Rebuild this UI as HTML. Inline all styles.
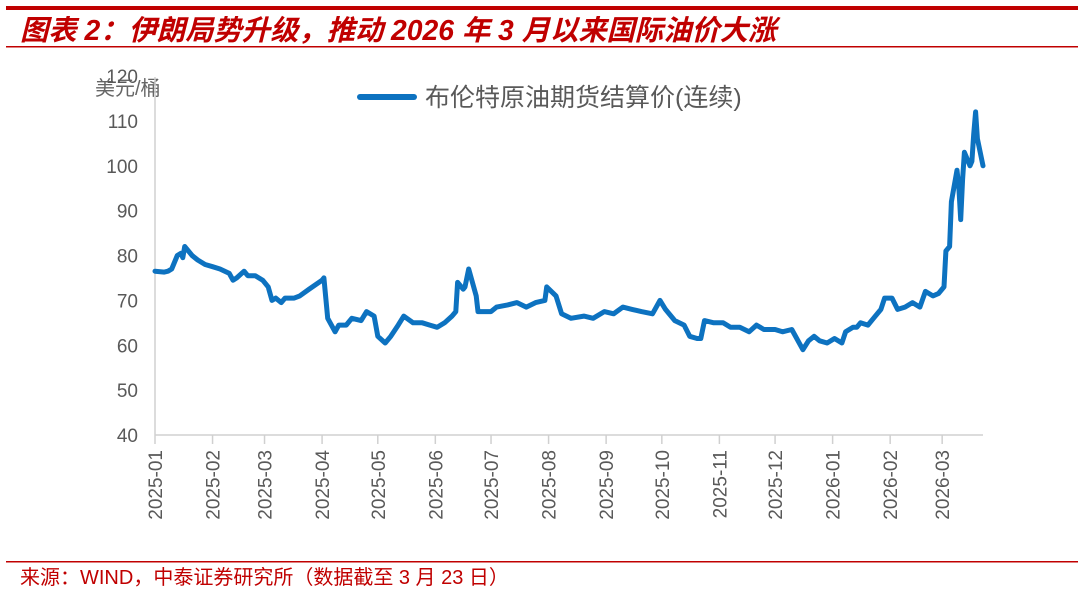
<!DOCTYPE html>
<html><head><meta charset="utf-8">
<style>
html,body{margin:0;padding:0;background:#fff;}
body{width:1080px;height:589px;overflow:hidden;position:relative;font-family:"Liberation Sans","Noto Sans CJK SC",sans-serif;}
</style></head>
<body>
<svg id="chart" width="1080" height="589" viewBox="0 0 1080 589" xmlns="http://www.w3.org/2000/svg">
  <rect x="6" y="6" width="1072" height="4" fill="#c00000"/>
  <text x="20" y="40" font-size="28.3" font-weight="bold" font-style="italic" fill="#c00000" font-family="'Liberation Sans','Noto Sans CJK SC',sans-serif">图表 2：伊朗局势升级，推动 2026 年 3 月以来国际油价大涨</text>
  <rect x="6" y="46" width="1072" height="1.5" fill="#c00000"/>
  <text x="95" y="95" font-size="20" fill="#666">美元/桶</text>
  <line x1="360" y1="97" x2="414" y2="97" stroke="#0d72c0" stroke-width="6" stroke-linecap="round"/>
  <text x="425" y="106" font-size="25" fill="#595959">布伦特原油期货结算价(连续)</text>
  <g id="yticks"></g>
  <g id="xticks"></g>
  <line x1="155" y1="77" x2="155" y2="435" stroke="#d0d0d0" stroke-width="1.5"/>
  <line x1="155" y1="435" x2="983" y2="435" stroke="#d0d0d0" stroke-width="1.5"/>
  <path id="series" fill="none" stroke="#0d72c0" stroke-width="5" stroke-linejoin="round" stroke-linecap="round"/>
  <rect x="6" y="561" width="1072" height="1.5" fill="#c00000"/>
  <text x="20" y="584" font-size="20" fill="#c00000">来源：WIND，中泰证券研究所（数据截至 3 月 23 日）</text>
</svg>
<script>
const yTicks = [40,50,60,70,80,90,100,110,120];
const xTickLabels = ["2025-01","2025-02","2025-03","2025-04","2025-05","2025-06","2025-07","2025-08","2025-09","2025-10","2025-11","2025-12","2026-01","2026-02","2026-03"];
const dates = ["2025-01-01","2025-01-06","2025-01-08","2025-01-10","2025-01-13","2025-01-15","2025-01-16","2025-01-17","2025-01-21","2025-01-24","2025-01-28","2025-02-01","2025-02-05","2025-02-10","2025-02-12","2025-02-14","2025-02-18","2025-02-20","2025-02-24","2025-02-28","2025-03-03","2025-03-05","2025-03-07","2025-03-10","2025-03-12","2025-03-17","2025-03-20","2025-03-25","2025-04-01","2025-04-02","2025-04-04","2025-04-08","2025-04-10","2025-04-14","2025-04-17","2025-04-22","2025-04-25","2025-04-29","2025-05-01","2025-05-05","2025-05-08","2025-05-12","2025-05-15","2025-05-20","2025-05-25","2025-05-29","2025-06-02","2025-06-06","2025-06-10","2025-06-12","2025-06-13","2025-06-16","2025-06-17","2025-06-19","2025-06-23","2025-06-24","2025-06-27","2025-07-01","2025-07-04","2025-07-10","2025-07-15","2025-07-20","2025-07-25","2025-07-30","2025-07-31","2025-08-05","2025-08-08","2025-08-13","2025-08-20","2025-08-25","2025-08-31","2025-09-05","2025-09-10","2025-09-15","2025-09-20","2025-09-26","2025-09-30","2025-10-03","2025-10-08","2025-10-13","2025-10-16","2025-10-20","2025-10-22","2025-10-24","2025-10-29","2025-11-03","2025-11-07","2025-11-12","2025-11-17","2025-11-21","2025-11-25","2025-12-01","2025-12-05","2025-12-10","2025-12-16","2025-12-19","2025-12-22","2025-12-25","2025-12-29","2026-01-02","2026-01-06","2026-01-08","2026-01-12","2026-01-14","2026-01-16","2026-01-20","2026-01-23","2026-01-27","2026-01-29","2026-02-02","2026-02-05","2026-02-09","2026-02-13","2026-02-17","2026-02-20","2026-02-24","2026-02-27","2026-03-02","2026-03-03","2026-03-05","2026-03-06","2026-03-09","2026-03-10","2026-03-11","2026-03-12","2026-03-13","2026-03-16","2026-03-17","2026-03-18","2026-03-19","2026-03-20","2026-03-23"];
const prices = [76.5,76.3,76.5,77,80,80.5,79.5,82,80,79,78,77.5,77,76,74.5,75,76.5,75.5,75.5,74.5,73,70,70.5,69.5,70.5,70.5,71,72.5,74.5,75,66,63,64.5,64.5,66,65.5,67.5,66.5,62,60.5,62,64.5,66.5,65,65,64.5,64,65,66.5,67.5,74,72.5,73,77,71,67.5,67.5,67.5,68.5,69,69.5,68.5,69.5,70,73,71,67,66,66.5,66,67.5,67,68.5,68,67.5,67,70,68,65.5,64.5,62,61.5,61.5,65.5,65,65,64,64,63,64.5,63.5,63.5,63,63.5,59,61,62,61,60.5,61.5,60.5,63,64,64,65,64.5,66,68,70.5,70.5,68,68.5,69.5,68.5,72,71,71.5,73,81,82,92,99,95,88,97,103,100,101,107,112,106,100];

const NS = "http://www.w3.org/2000/svg";
const x0 = 155, x1 = 983, yBase = 435, yTop = 76;
const tStart = Date.parse("2025-01-01"), tEnd = Date.parse("2026-03-23");
function xScale(d){ return x0 + (Date.parse(d) - tStart) / (tEnd - tStart) * (x1 - x0); }
function yScale(v){ return yBase - (v - 40) / 80 * (yBase - yTop); }

const yg = document.getElementById('yticks');
yTicks.forEach(v => {
  const t = document.createElementNS(NS, 'text');
  t.setAttribute('x', 138);
  t.setAttribute('y', yScale(v) + 7);
  t.setAttribute('text-anchor', 'end');
  t.setAttribute('font-size', '19');
  t.setAttribute('fill', '#595959');
  t.textContent = v;
  
  
  yg.appendChild(t);
});

const xg = document.getElementById('xticks');
xTickLabels.forEach(lbl => {
  const x = xScale(lbl + "-01");
  const l = document.createElementNS(NS, 'line');
  l.setAttribute('x1', x); l.setAttribute('x2', x);
  l.setAttribute('y1', 435); l.setAttribute('y2', 444);
  l.setAttribute('stroke', '#d0d0d0'); l.setAttribute('stroke-width', '1.5');
  
  
  xg.appendChild(l);
  const t = document.createElementNS(NS, 'text');
  t.setAttribute('transform', 'translate(' + (x + 7) + ',450) rotate(-90)');
  t.setAttribute('text-anchor', 'end');
  t.setAttribute('font-size', '19');
  t.setAttribute('fill', '#595959');
  t.textContent = lbl;
  
  
  xg.appendChild(t);
});

let d = '';
dates.forEach((dt, i) => {
  d += (i ? 'L' : 'M') + xScale(dt).toFixed(1) + ',' + yScale(prices[i]).toFixed(1);
});
document.getElementById('series').setAttribute('d', d);
</script>
</body></html>
